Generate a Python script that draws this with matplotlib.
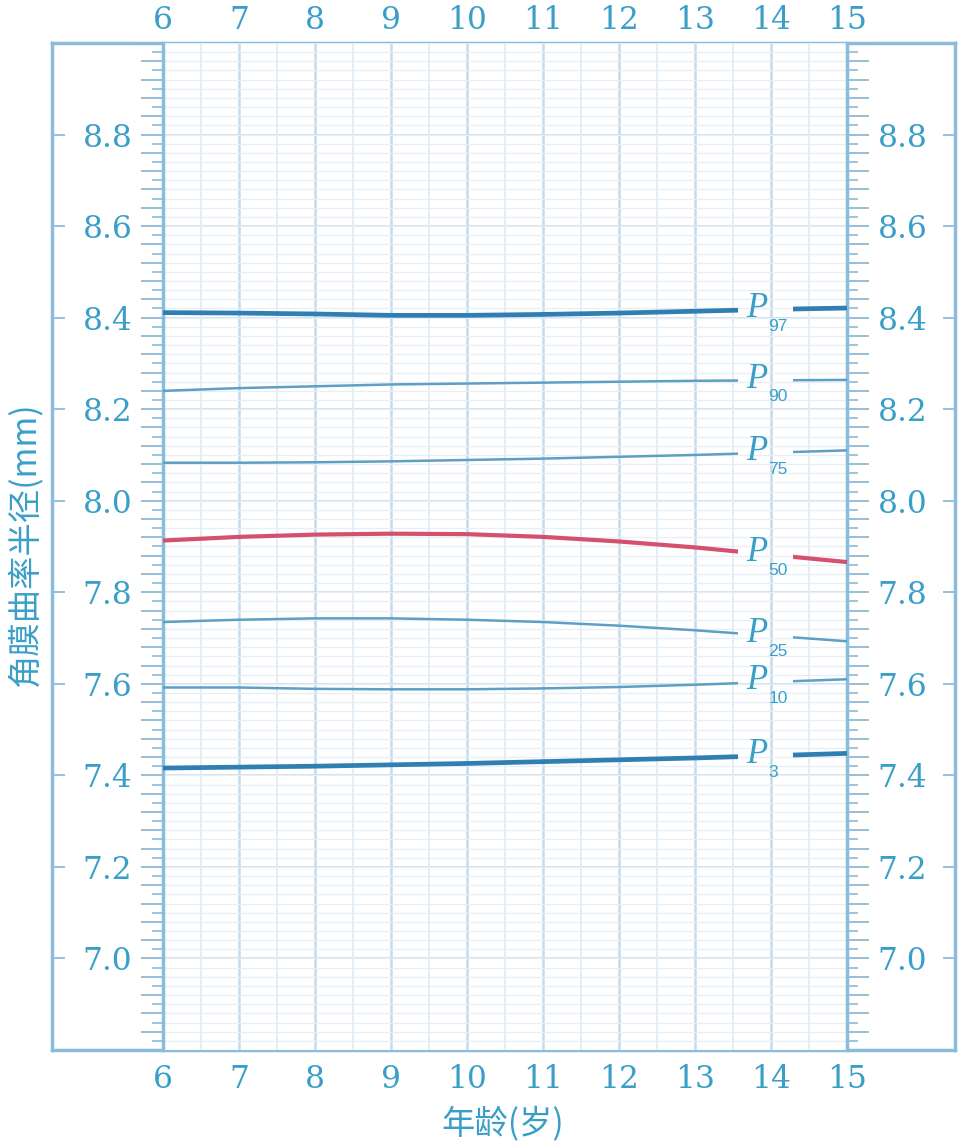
"""Corneal curvature radius percentile chart (age 6-15)."""

import numpy as np
import matplotlib.pyplot as plt
from matplotlib.patches import Rectangle
from matplotlib.ticker import MultipleLocator, FuncFormatter

# data
ages = [6, 7, 8, 9, 10, 11, 12, 13, 14, 15]
p97 = [8.411, 8.410, 8.408, 8.405, 8.405, 8.407, 8.410, 8.414, 8.418, 8.421]
p90 = [8.240, 8.246, 8.250, 8.254, 8.256, 8.258, 8.260, 8.262, 8.263, 8.264]
p75 = [8.083, 8.083, 8.084, 8.086, 8.089, 8.092, 8.096, 8.100, 8.105, 8.110]
p50 = [7.913, 7.921, 7.926, 7.928, 7.927, 7.921, 7.911, 7.898, 7.882, 7.866]
p25 = [7.735, 7.740, 7.743, 7.743, 7.740, 7.735, 7.727, 7.717, 7.705, 7.693]
p10 = [7.592, 7.592, 7.589, 7.588, 7.588, 7.590, 7.593, 7.598, 7.604, 7.610]
p3 = [7.416, 7.418, 7.420, 7.423, 7.426, 7.430, 7.434, 7.438, 7.443, 7.448]

curves = [("97", p97), ("90", p90), ("75", p75), ("50", p50),
          ("25", p25), ("10", p10), ("3", p3)]
label_age = 13.88
gap = (13.57, 14.29)   # where the curves are broken for the labels

x_ticks = list(range(6, 16))
y_min, y_max = 6.8, 9.0

txt_color = '#3a9fc8'
frame_color = '#8cbcdc'
tick_color = '#8dbad8'

W, H = 965, 1148
fig = plt.figure(figsize=(W / 100, H / 100), dpi=100)


def fig_rect(x0, y0, x1, y1):
    return [x0 / W, 1 - y1 / H, (x1 - x0) / W, (y1 - y0) / H]


# outer frame with small inward ticks at the labelled values
fr = fig.add_axes(fig_rect(52, 43, 955, 1050))
fr.set_ylim(y_min, y_max)
fr.set_xticks([])
fr.set_yticks(np.arange(7.0, 8.81, 0.2))
fr.tick_params(axis='y', direction='in', length=9, width=1.3, color=frame_color,
               left=True, right=True, labelleft=False, labelright=False)
for s in fr.spines.values():
    s.set_color(frame_color)
    s.set_linewidth(2.5)

# grid area
ax = fig.add_axes(fig_rect(163, 43, 847, 1050))
ax.set_xlim(6, 15)
ax.set_ylim(y_min, y_max)

ax.set_xticks(x_ticks)
ax.xaxis.set_minor_locator(MultipleLocator(0.5))
ax.yaxis.set_major_locator(MultipleLocator(0.04))
ax.yaxis.set_minor_locator(MultipleLocator(0.02))


def ylab(v, pos):
    k = round(v / 0.2)
    if abs(v - k * 0.2) < 1e-6 and 7.0 - 1e-6 <= v <= 8.8 + 1e-6:
        return f"{v:.1f}"
    return ""


ax.yaxis.set_major_formatter(FuncFormatter(ylab))
ax.tick_params(axis='y', which='major', direction='out', length=16, width=1.3,
               color=tick_color, pad=6, labelsize=22.5, labelcolor=txt_color,
               left=True, right=True, labelleft=True, labelright=True)
ax.tick_params(axis='y', which='minor', direction='out', length=8, width=1.2,
               color=tick_color, left=True, right=True)
ax.tick_params(axis='x', which='both', length=0, pad=10, labelsize=22.5,
               labelcolor=txt_color)

# age labels along the top as well
top = ax.secondary_xaxis('top')
top.set_xticks(x_ticks)
top.tick_params(axis='x', length=0, pad=5, labelsize=22.5, labelcolor=txt_color)
top.spines['top'].set_visible(False)

for lab in (ax.get_xticklabels() + ax.get_yticklabels()
            + top.get_xticklabels()):
    lab.set_family('DejaVu Serif')

# grid lines
ax.grid(which='both', axis='y', color='#e6eff7', linewidth=0.9)
for v in np.arange(7.0, 8.81, 0.2):
    ax.axhline(v, color='#d3e3f0', linewidth=1.4, zorder=0.5)
ax.grid(which='minor', axis='x', color='#e2edf6', linewidth=1.3)
ax.grid(which='major', axis='x', color='#c4dbec', linewidth=1.8)
ax.set_axisbelow(True)

for s in ('left', 'right'):
    ax.spines[s].set_color(frame_color)
    ax.spines[s].set_linewidth(2.5)
for s in ('top', 'bottom'):
    ax.spines[s].set_visible(False)

# percentile curves, broken where the label sits
for name, vals in curves:
    if name == "50":
        color, lw = '#d4506e', 3.0
    elif name in ("97", "3"):
        color, lw = '#2f7fb2', 3.4
    else:
        color, lw = '#5e9fc6', 1.8
    for x0, x1 in ((6 - 0.1, gap[0]), (gap[1], 15.1)):
        ln, = ax.plot(ages, vals, color=color, linewidth=lw,
                      solid_capstyle='butt', zorder=3)
        clip = Rectangle((x0, y_min), x1 - x0, y_max - y_min,
                         transform=ax.transData, visible=False)
        ax.add_patch(clip)
        ln.set_clip_path(clip)
    yv = np.interp(label_age, ages, vals)
    ax.annotate('P', (label_age, yv), xytext=(4, 1), textcoords='offset points',
                fontsize=25, family='Liberation Serif', style='italic',
                color=txt_color, ha='right', va='center', zorder=4)
    ax.annotate(name, (label_age, yv), xytext=(4.5, -6.5),
                textcoords='offset points', fontsize=12.5, family='Liberation Sans',
                color=txt_color, ha='left', va='top', zorder=4)

# axis titles
cjk = ['Noto Sans CJK SC', 'DejaVu Sans']
fig.text(503 / W, 1 - 1125 / H, '年龄(岁)', family=cjk, fontsize=24,
         color=txt_color, ha='center', va='center')
fig.text(25 / W, 1 - 545 / H, '角膜曲率半径(mm)', family=cjk, fontsize=24,
         color=txt_color, ha='center', va='center', rotation=90)

fig.savefig('out.png', dpi=100)
